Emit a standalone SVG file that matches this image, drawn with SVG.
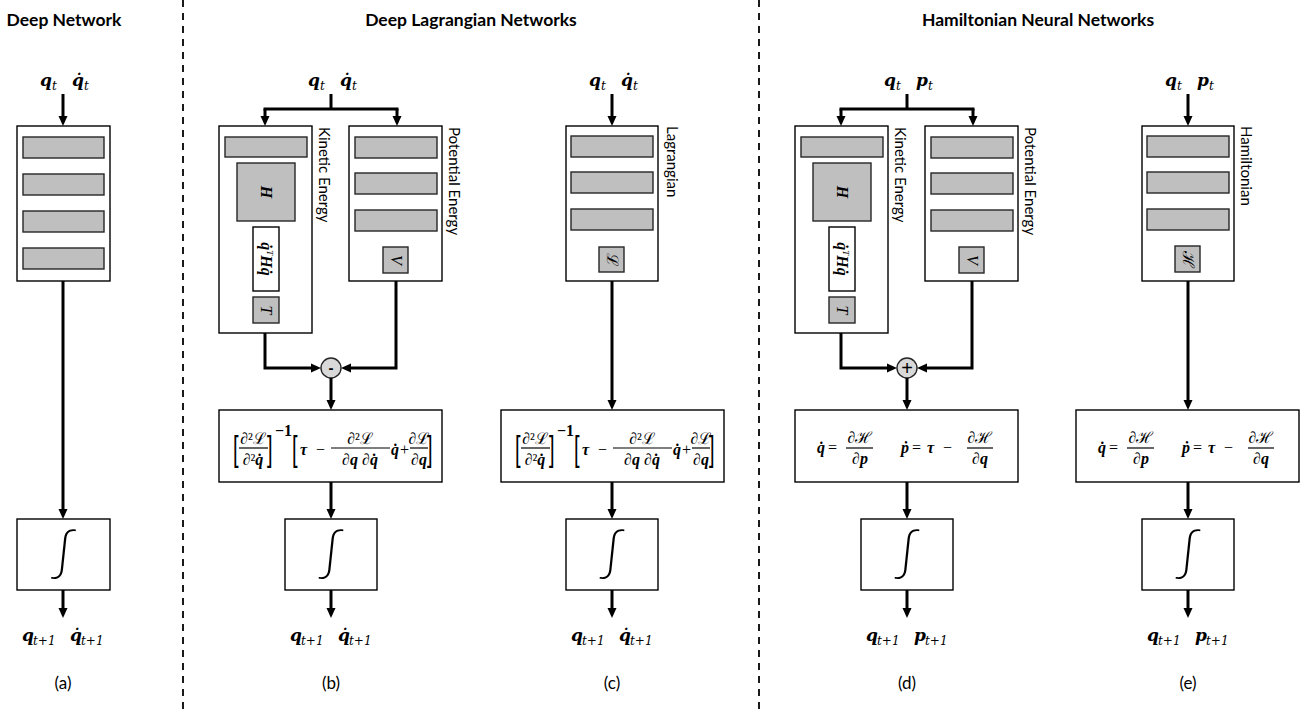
<svg xmlns="http://www.w3.org/2000/svg" width="1315" height="715" viewBox="0 0 1315 715">
<style>
.bg{fill:#fff}
.box{fill:#fff;stroke:#000;stroke-width:1.4}
.bar{fill:#bfbfbf;stroke:#262626;stroke-width:1.4}
.op{fill:#d9d9d9;stroke:#262626;stroke-width:1.4}
.ln{fill:none;stroke:#000;stroke-width:3;stroke-linejoin:miter}
.arr{fill:none;stroke:#000;stroke-width:3;stroke-linejoin:miter;marker-end:url(#ah)}
.dash{stroke:#1a1a1a;stroke-width:2;stroke-dasharray:7 6}
.title{font-family:Lato,"Liberation Sans",sans-serif;font-weight:bold;font-size:17.5px;text-anchor:middle;fill:#000}
.cap{font-family:Lato,"Liberation Sans",sans-serif;font-size:17px;text-anchor:middle;fill:#000}
.side{font-family:Lato,"Liberation Sans",sans-serif;font-size:15px;fill:#000}
.m{font-family:"DejaVu Serif","Liberation Serif",serif;font-size:17px;font-weight:bold;font-style:italic;fill:#000}
.s{font-family:"DejaVu Serif","Liberation Serif",serif;font-size:12px;font-style:italic;fill:#000}
.f{font-family:"Liberation Serif","DejaVu Serif",serif;font-size:16px;fill:#000}
.fc{font-family:"Liberation Serif","DejaVu Serif",serif;font-size:16px;fill:#000;text-anchor:middle}
.fb{font-weight:bold;font-style:italic}
.br{font-family:"Liberation Sans",sans-serif;font-size:20px;fill:#000}
.fl{stroke:#000;stroke-width:1.2}
.int{font-family:Lato,"Open Sans",sans-serif;font-weight:300;font-size:50px;text-anchor:middle;fill:#000}
</style>
<defs>
<marker id="ah" markerUnits="userSpaceOnUse" markerWidth="11" markerHeight="10" refX="3" refY="5" orient="auto">
<path d="M0,0.5 L10,5 L0,9.5 Z" fill="#000"/>
</marker>
</defs>
<rect class="bg" x="0" y="0" width="1315" height="715"/>

<g id="separators">
<line class="dash" x1="183" y1="0" x2="183" y2="715"/>
<line class="dash" x1="759" y1="0" x2="759" y2="715"/>
</g>

<g id="titles">
<text class="title" x="64" y="26">Deep Network</text>
<text class="title" x="471" y="26">Deep Lagrangian Networks</text>
<text class="title" x="1038" y="26">Hamiltonian Neural Networks</text>
</g>

<!-- ===== Panel (a) ===== -->
<g id="a-input">
<text class="m" x="40" y="86">q</text><text class="s" x="52" y="90">t</text>
<text class="m" x="72" y="86">q&#x307;</text><text class="s" x="84" y="90">t</text>
</g>
<g id="a-network">
<rect class="box" x="17" y="126" width="93" height="155"/>
<rect class="bar" x="23" y="137" width="81" height="21"/>
<rect class="bar" x="23" y="174" width="81" height="21"/>
<rect class="bar" x="23" y="211" width="81" height="21"/>
<rect class="bar" x="23" y="248" width="81" height="21"/>
</g>
<g id="a-integrator">
<rect class="box" x="17" y="519" width="93" height="71"/>
<text class="int" x="63.5" y="570">∫</text>
</g>
<g id="a-output">
<text class="m" x="22" y="641">q</text><text class="s" x="33" y="645">t+1</text>
<text class="m" x="70" y="641">q&#x307;</text><text class="s" x="81" y="645">t+1</text>
</g>
<text class="cap" x="63" y="689">(a)</text>

<!-- ===== Panel (b) ===== -->
<g id="b-input">
<text class="m" x="308" y="86">q</text><text class="s" x="320" y="90">t</text>
<text class="m" x="340" y="86">q&#x307;</text><text class="s" x="352" y="90">t</text>
</g>
<g id="b-kinetic">
<rect class="box" x="219" y="126" width="93" height="207"/>
<rect class="bar" x="225" y="137" width="82" height="20"/>
<rect class="bar" x="237" y="163" width="58" height="58"/>
<text class="f fb" transform="translate(266,192) rotate(90)" text-anchor="middle" dy="5">H</text>
<rect class="box" x="253" y="227" width="26" height="64"/>
<text class="f fb" font-size="15" transform="translate(266,259) rotate(90)" text-anchor="middle" dy="5">q&#x307;<tspan font-size="9" dy="-6" font-style="italic" font-weight="normal">T</tspan><tspan dy="6">Hq&#x307;</tspan></text>
<rect class="bar" x="253" y="297" width="26" height="26"/>
<text class="f" font-style="italic" transform="translate(266,310) rotate(90)" text-anchor="middle" dy="5">T</text>
<text class="side" transform="translate(319,127) rotate(90)">Kinetic Energy</text>
</g>
<g id="b-potential">
<rect class="box" x="349" y="126" width="93" height="155"/>
<rect class="bar" x="355" y="137" width="82" height="21"/>
<rect class="bar" x="355" y="173" width="82" height="21"/>
<rect class="bar" x="355" y="210" width="82" height="21"/>
<rect class="bar" x="383" y="247" width="25" height="26"/>
<text class="f" font-style="italic" transform="translate(395.5,260) rotate(90)" text-anchor="middle" dy="5">V</text>
<text class="side" transform="translate(449,127) rotate(90)">Potential Energy</text>
</g>
<g id="b-minus">
<circle class="op" cx="331" cy="368" r="10"/>
<text x="331" y="373" font-family="Liberation Sans,sans-serif" font-size="15" font-weight="bold" text-anchor="middle">-</text>
</g>
<g id="b-equation">
<rect class="box" x="219" y="410" width="223" height="72"/>
<g id="lag-eq">
<text class="br" transform="translate(233,461) scale(1,1.75)">[</text>
<text class="fc" x="253" y="444">∂²ℒ</text>
<line class="fl" x1="239" y1="448" x2="268" y2="448"/>
<text class="fc" x="253" y="465">∂²<tspan class="fb">q&#x307;</tspan></text>
<text class="br" transform="translate(267,461) scale(1,1.75)">]</text>
<text class="f" x="275" y="436" font-size="11" font-weight="bold">−1</text>
<text class="br" transform="translate(292,461) scale(1,1.75)">[</text>
<text class="f fb" x="300" y="455" font-style="normal">τ</text>
<text class="f" x="316" y="455">−</text>
<text class="fc" x="360" y="444">∂²ℒ</text>
<line class="fl" x1="331" y1="448" x2="390" y2="448"/>
<text class="fc" x="360" y="465">∂<tspan class="fb">q</tspan> ∂<tspan class="fb">q&#x307;</tspan></text>
<text class="f fb" x="391" y="455">q&#x307;</text>
<text class="f" x="400" y="455">+</text>
<text class="fc" x="419" y="444">∂ℒ</text>
<line class="fl" x1="410" y1="448" x2="428" y2="448"/>
<text class="fc" x="419" y="465">∂<tspan class="fb">q</tspan></text>
<text class="br" transform="translate(427,461) scale(1,1.75)">]</text>
</g>
</g>
<g id="b-integrator">
<rect class="box" x="285" y="519" width="92" height="71"/>
<text class="int" x="331" y="570">∫</text>
</g>
<g id="b-output">
<text class="m" x="290" y="641">q</text><text class="s" x="301" y="645">t+1</text>
<text class="m" x="338" y="641">q&#x307;</text><text class="s" x="349" y="645">t+1</text>
</g>
<text class="cap" x="331" y="689">(b)</text>

<!-- ===== Panel (c) ===== -->
<g id="c-input">
<text class="m" x="589" y="86">q</text><text class="s" x="601" y="90">t</text>
<text class="m" x="621" y="86">q&#x307;</text><text class="s" x="633" y="90">t</text>
</g>
<g id="c-lagrangian">
<rect class="box" x="566" y="126" width="92" height="155"/>
<rect class="bar" x="571" y="136" width="82" height="21"/>
<rect class="bar" x="571" y="172" width="82" height="21"/>
<rect class="bar" x="571" y="209" width="82" height="21"/>
<rect class="bar" x="599" y="247" width="25" height="25"/>
<text class="f" transform="translate(611.5,259.5) rotate(90)" text-anchor="middle" dy="5">ℒ</text>
<text class="side" transform="translate(667,126) rotate(90)">Lagrangian</text>
</g>
<g id="c-equation">
<rect class="box" x="501" y="410" width="223" height="72"/>
<use href="#lag-eq" transform="translate(282,0)"/>
</g>
<g id="c-integrator">
<rect class="box" x="566" y="519" width="92" height="71"/>
<text class="int" x="612" y="570">∫</text>
</g>
<g id="c-output">
<text class="m" x="571" y="641">q</text><text class="s" x="582" y="645">t+1</text>
<text class="m" x="619" y="641">q&#x307;</text><text class="s" x="630" y="645">t+1</text>
</g>
<text class="cap" x="612" y="689">(c)</text>

<!-- ===== Panel (d) ===== -->
<g id="d-input">
<text class="m" x="884" y="86">q</text><text class="s" x="896" y="90">t</text>
<text class="m" x="916" y="86">p</text><text class="s" x="928" y="90">t</text>
</g>
<g id="d-kinetic">
<rect class="box" x="795" y="126" width="93" height="207"/>
<rect class="bar" x="801" y="137" width="82" height="20"/>
<rect class="bar" x="813" y="163" width="58" height="58"/>
<text class="f fb" transform="translate(842,192) rotate(90)" text-anchor="middle" dy="5">H</text>
<rect class="box" x="829" y="227" width="26" height="64"/>
<text class="f fb" font-size="15" transform="translate(842,259) rotate(90)" text-anchor="middle" dy="5">q&#x307;<tspan font-size="9" dy="-6" font-style="italic" font-weight="normal">T</tspan><tspan dy="6">Hq&#x307;</tspan></text>
<rect class="bar" x="829" y="297" width="26" height="26"/>
<text class="f" font-style="italic" transform="translate(842,310) rotate(90)" text-anchor="middle" dy="5">T</text>
<text class="side" transform="translate(895,127) rotate(90)">Kinetic Energy</text>
</g>
<g id="d-potential">
<rect class="box" x="925" y="126" width="93" height="155"/>
<rect class="bar" x="931" y="137" width="82" height="21"/>
<rect class="bar" x="931" y="173" width="82" height="21"/>
<rect class="bar" x="931" y="210" width="82" height="21"/>
<rect class="bar" x="959" y="247" width="25" height="26"/>
<text class="f" font-style="italic" transform="translate(971.5,260) rotate(90)" text-anchor="middle" dy="5">V</text>
<text class="side" transform="translate(1025,127) rotate(90)">Potential Energy</text>
</g>
<g id="d-plus">
<circle class="op" cx="907" cy="368" r="10"/>
<text x="907" y="374.5" font-family="Liberation Sans,sans-serif" font-size="20" text-anchor="middle">+</text>
</g>
<g id="d-equation">
<rect class="box" x="795" y="410" width="223" height="72"/>
<g id="ham-eq">
<text class="f fb" x="817" y="453">q&#x307;</text>
<text class="f" x="828" y="453">=</text>
<text class="fc" x="860" y="443">∂ℋ</text>
<line class="fl" x1="846" y1="448" x2="873" y2="448"/>
<text class="fc" x="860" y="464">∂<tspan class="fb">p</tspan></text>
<text class="f fb" x="901" y="453">p&#x307;</text>
<text class="f" x="912" y="453">=</text>
<text class="f fb" x="927" y="453" font-style="normal">τ</text>
<text class="f" x="943" y="453">−</text>
<text class="fc" x="980" y="443">∂ℋ</text>
<line class="fl" x1="967" y1="448" x2="993" y2="448"/>
<text class="fc" x="980" y="464">∂<tspan class="fb">q</tspan></text>
</g>
</g>
<g id="d-integrator">
<rect class="box" x="861" y="519" width="92" height="71"/>
<text class="int" x="907" y="570">∫</text>
</g>
<g id="d-output">
<text class="m" x="866" y="641">q</text><text class="s" x="877" y="645">t+1</text>
<text class="m" x="914" y="641">p</text><text class="s" x="925" y="645">t+1</text>
</g>
<text class="cap" x="907" y="689">(d)</text>

<!-- ===== Panel (e) ===== -->
<g id="e-input">
<text class="m" x="1165" y="86">q</text><text class="s" x="1177" y="90">t</text>
<text class="m" x="1197" y="86">p</text><text class="s" x="1209" y="90">t</text>
</g>
<g id="e-hamiltonian">
<rect class="box" x="1142" y="126" width="92" height="155"/>
<rect class="bar" x="1147" y="136" width="82" height="21"/>
<rect class="bar" x="1147" y="172" width="82" height="21"/>
<rect class="bar" x="1147" y="209" width="82" height="21"/>
<rect class="bar" x="1175" y="246" width="25" height="26"/>
<text class="f" transform="translate(1187.5,259) rotate(90)" text-anchor="middle" dy="5">ℋ</text>
<text class="side" transform="translate(1241,126) rotate(90)">Hamiltonian</text>
</g>
<g id="e-equation">
<rect class="box" x="1076" y="410" width="223" height="72"/>
<use href="#ham-eq" transform="translate(281,0)"/>
</g>
<g id="e-integrator">
<rect class="box" x="1142" y="519" width="92" height="71"/>
<text class="int" x="1188" y="570">∫</text>
</g>
<g id="e-output">
<text class="m" x="1147" y="641">q</text><text class="s" x="1158" y="645">t+1</text>
<text class="m" x="1195" y="641">p</text><text class="s" x="1206" y="645">t+1</text>
</g>
<text class="cap" x="1188" y="689">(e)</text>

<g id="connectors">
<path class="arr" d="M63,94 V119"/>
<path class="arr" d="M63,281 V512"/>
<path class="arr" d="M63,590 V611"/>

<path class="ln" d="M331,94 V109"/>
<path class="ln" d="M263.5,109 H398.5"/>
<path class="arr" d="M265,109 V119"/>
<path class="arr" d="M397,109 V119"/>
<path class="arr" d="M265,333 V368 H314"/>
<path class="arr" d="M396,281 V368 H348"/>
<path class="arr" d="M331,378 V403"/>
<path class="arr" d="M331,482 V512"/>
<path class="arr" d="M331,590 V611"/>

<path class="arr" d="M612,94 V119"/>
<path class="arr" d="M612,281 V403"/>
<path class="arr" d="M612,482 V512"/>
<path class="arr" d="M612,590 V611"/>

<path class="ln" d="M907,94 V109"/>
<path class="ln" d="M839.5,109 H974.5"/>
<path class="arr" d="M841,109 V119"/>
<path class="arr" d="M973,109 V119"/>
<path class="arr" d="M841,333 V368 H890"/>
<path class="arr" d="M972,281 V368 H924"/>
<path class="arr" d="M907,378 V403"/>
<path class="arr" d="M907,482 V512"/>
<path class="arr" d="M907,590 V611"/>

<path class="arr" d="M1188,94 V119"/>
<path class="arr" d="M1188,281 V403"/>
<path class="arr" d="M1188,482 V512"/>
<path class="arr" d="M1188,590 V611"/>
</g>
</svg>
